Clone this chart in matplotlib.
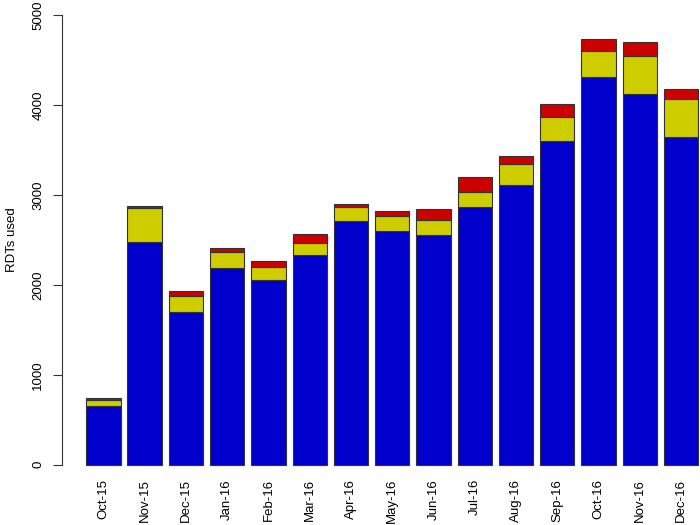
import numpy as np
import matplotlib.pyplot as plt

plt.rcParams['font.family'] = ['Liberation Sans', 'DejaVu Sans']

months = ['Oct-15', 'Nov-15', 'Dec-15', 'Jan-16', 'Feb-16', 'Mar-16', 'Apr-16',
          'May-16', 'Jun-16', 'Jul-16', 'Aug-16', 'Sep-16', 'Oct-16', 'Nov-16', 'Dec-16']
blue_vals = [653, 2474, 1695, 2185, 2054, 2333, 2707, 2600, 2555, 2870, 3111, 3597, 4316, 4127, 3649]
yellow_vals = [63, 381, 181, 178, 142, 130, 156, 163, 164, 167, 230, 274, 289, 416, 416]
red_vals = [23, 19, 53, 44, 66, 107, 37, 62, 122, 160, 93, 138, 127, 156, 111]

# R barplot layout: width 1, space 0.2
left = 0.2 + 1.2 * np.arange(len(months))
centers = left + 0.5
blue = np.array(blue_vals)
yellow = np.array(yellow_vals)
red = np.array(red_vals)

fig = plt.figure(figsize=(7, 5.25), dpi=100)
ax = fig.add_axes([61.7 / 700, 0.0891, 1 - 61.7 / 700, 0.9971 - 0.0891])

ec = '#333333'
ax.bar(left, blue, width=1, align='edge', color='#0000CD', edgecolor=ec, linewidth=0.8)
ax.bar(left, yellow, width=1, bottom=blue, align='edge', color='#CDCD00', edgecolor=ec, linewidth=0.8)
ax.bar(left, red, width=1, bottom=blue + yellow, align='edge', color='#CD0000', edgecolor=ec, linewidth=0.8)

ax.set_xlim(-0.512, 18.05)
ax.set_ylim(-150, 5150)

for s in ['top', 'right', 'bottom']:
    ax.spines[s].set_visible(False)
ax.spines['left'].set_bounds(0, 5000)
ax.spines['left'].set_color('#333333')

ax.set_yticks([0, 1000, 2000, 3000, 4000, 5000])
ax.tick_params(axis='y', length=6.5, pad=6, labelsize=9.5, color='#333333')
for lab in ax.get_yticklabels():
    lab.set_rotation(90)
    lab.set_va('center')

ax.set_xticks(centers)
ax.set_xticklabels(months, rotation=90, fontsize=9.5)
ax.tick_params(axis='x', length=0, pad=0.5)

ax.set_ylabel('RDTs used', fontsize=9.5, labelpad=10)

fig.savefig('out.png', dpi=100)
